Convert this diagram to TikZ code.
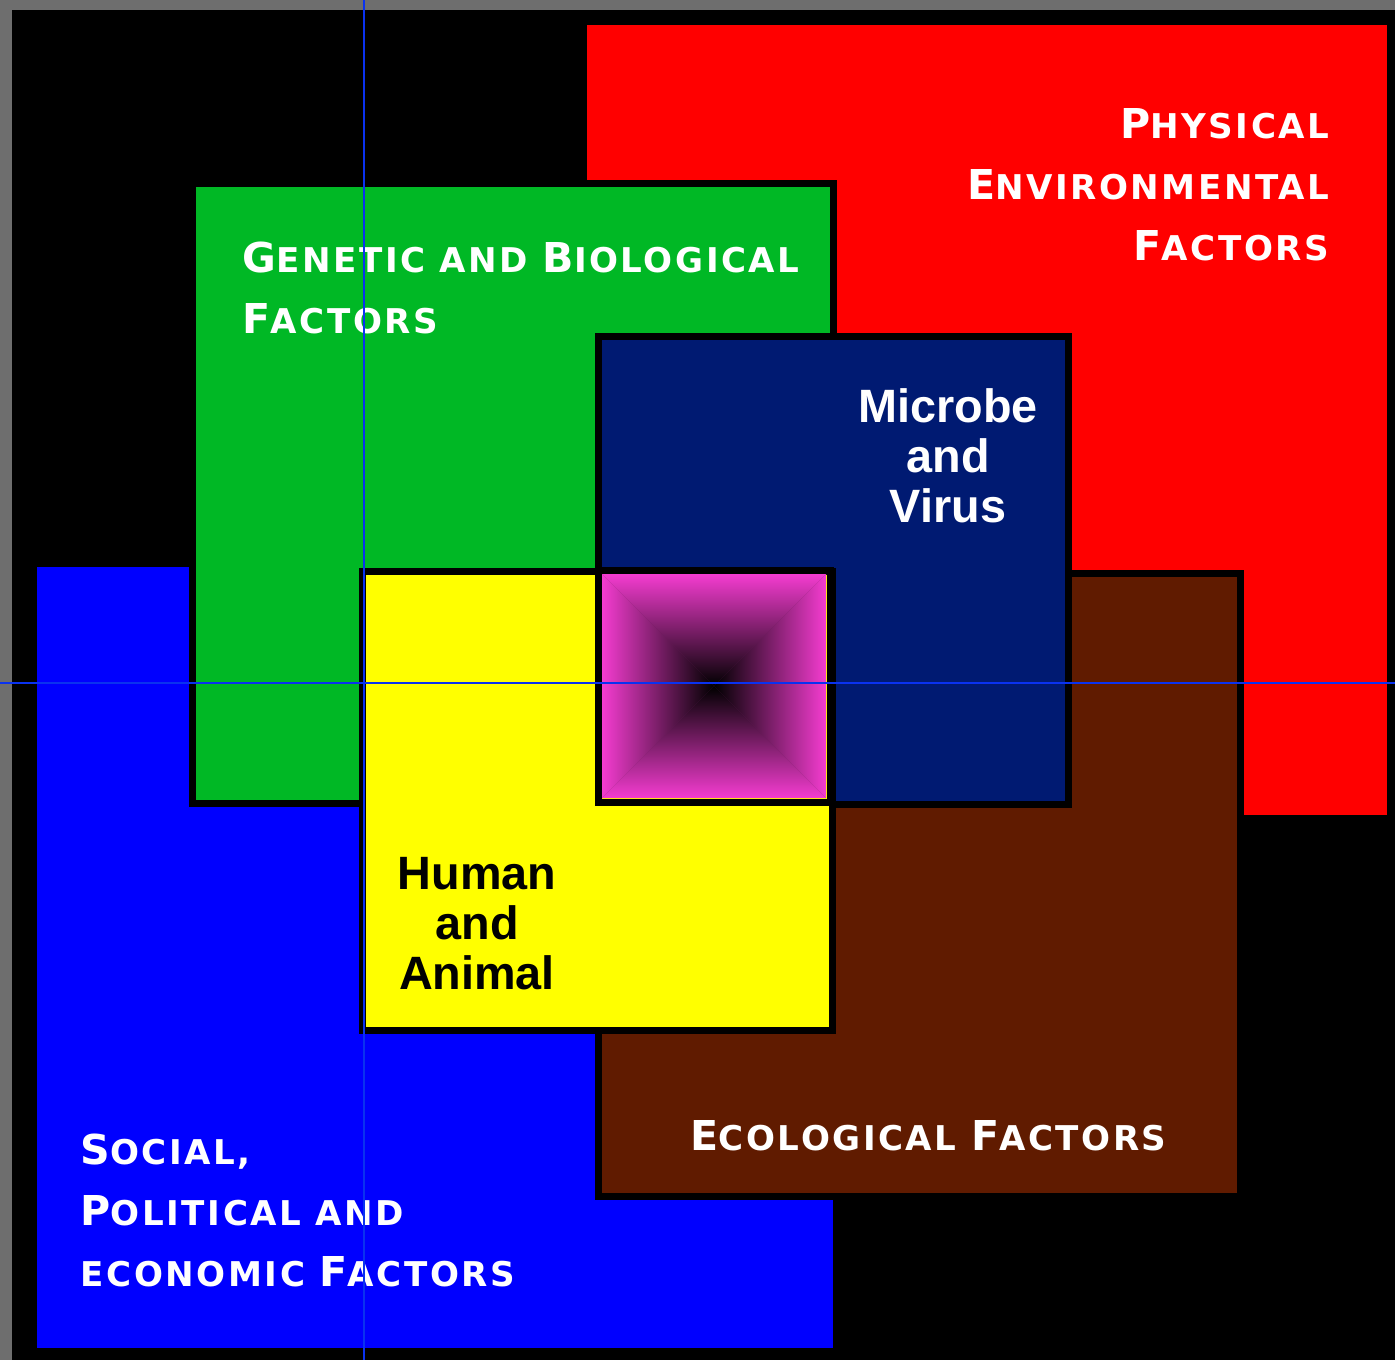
\documentclass[tikz,border=0pt]{standalone}
\usepackage{fontspec}
\setmainfont{Liberation Sans}
\newfontfamily\spacedfont{DejaVu Sans}[LetterSpace=7.5]
% first letters of the small-caps headings
\newcommand\Cap[1]{{\fontsize{11.7}{17.3}\selectfont #1}}

\definecolor{framegray}{RGB}{110,110,110}
\definecolor{physred}{RGB}{255,0,0}
\definecolor{genegreen}{RGB}{0,184,37}
\definecolor{socblue}{RGB}{0,0,255}
\definecolor{micronavy}{RGB}{0,26,114}
\definecolor{ecobrown}{RGB}{96,27,0}
\definecolor{humyellow}{RGB}{255,255,0}
\definecolor{coremagenta}{RGB}{244,60,208}
\definecolor{guideblue}{RGB}{10,50,240}

\begin{document}
\begin{tikzpicture}[x=0.01cm,y=-0.01cm,line join=miter,
	box/.style={draw=black,line width=0.07cm},
	heading/.style={font=\spacedfont\bfseries\fontsize{9.7}{17.3}\selectfont,text=white,inner sep=0pt},
	inner/.style={font=\bfseries\fontsize{13.3}{14.2}\selectfont,align=center,inner sep=0pt},
	guide/.style={guideblue,line width=0.012cm}]
	\useasboundingbox (0,0) rectangle (1395,1360);
	\fill[framegray] (0,0) rectangle (1395,1360);
	\fill[black] (12,10) rectangle (1395,1360);
	% the factor fields, back to front
	\fill[physred] (587,25) rectangle (1387,815);
	\fill[socblue] (37,567) rectangle (833,1348);
	\draw[box,fill=genegreen] (192,183) rectangle (833,803);
	\draw[box,fill=ecobrown] (598,573) rectangle (1240,1196);
	\draw[box,fill=micronavy] (598,336) rectangle (1068,804);
	\draw[box,fill=humyellow] (362,571) rectangle (832,1030);
	% core square: four shaded wedges meeting in the middle
	\coordinate (core) at (714,686);
	\fill[coremagenta!45!black] (602,574) rectangle (826,798);
	\shade[top color=coremagenta,bottom color=black] (602,574) -- (826,574) -- (core) -- cycle;
	\shade[bottom color=coremagenta,top color=black] (602,798) -- (826,798) -- (core) -- cycle;
	\shade[left color=coremagenta,right color=black] (602,574) -- (602,798) -- (core) -- cycle;
	\shade[right color=coremagenta,left color=black] (826,574) -- (826,798) -- (core) -- cycle;
	\draw[box] (598,570) rectangle (830,802);
	% labels (anchored on the baseline of their last line)
	\node[heading,anchor=base east,align=right] (physical) at (1330,260)
		{\Cap{P}HYSICAL\\\Cap{E}NVIRONMENTAL\\\Cap{F}ACTORS};
	\node[heading,anchor=base west,align=left] (genetic) at (242,333)
		{\Cap{G}ENETIC AND \Cap{B}IOLOGICAL\\\Cap{F}ACTORS};
	\node[heading,anchor=base west,align=left] (social) at (80,1286)
		{\Cap{S}OCIAL,\\\Cap{P}OLITICAL AND\\ECONOMIC \Cap{F}ACTORS};
	\node[heading,anchor=base west] (ecological) at (690,1150)
		{\Cap{E}COLOGICAL \Cap{F}ACTORS};
	\node[inner,text=white,anchor=base] (microbe) at (948,522) {Microbe\\and\\Virus};
	\node[inner,text=black,anchor=base] (human) at (477,989) {Human\\and\\Animal};
	% guides
	\draw[guide] (364,0) -- (364,1360);
	\draw[guide] (0,683) -- (1395,683);
\end{tikzpicture}
\end{document}
